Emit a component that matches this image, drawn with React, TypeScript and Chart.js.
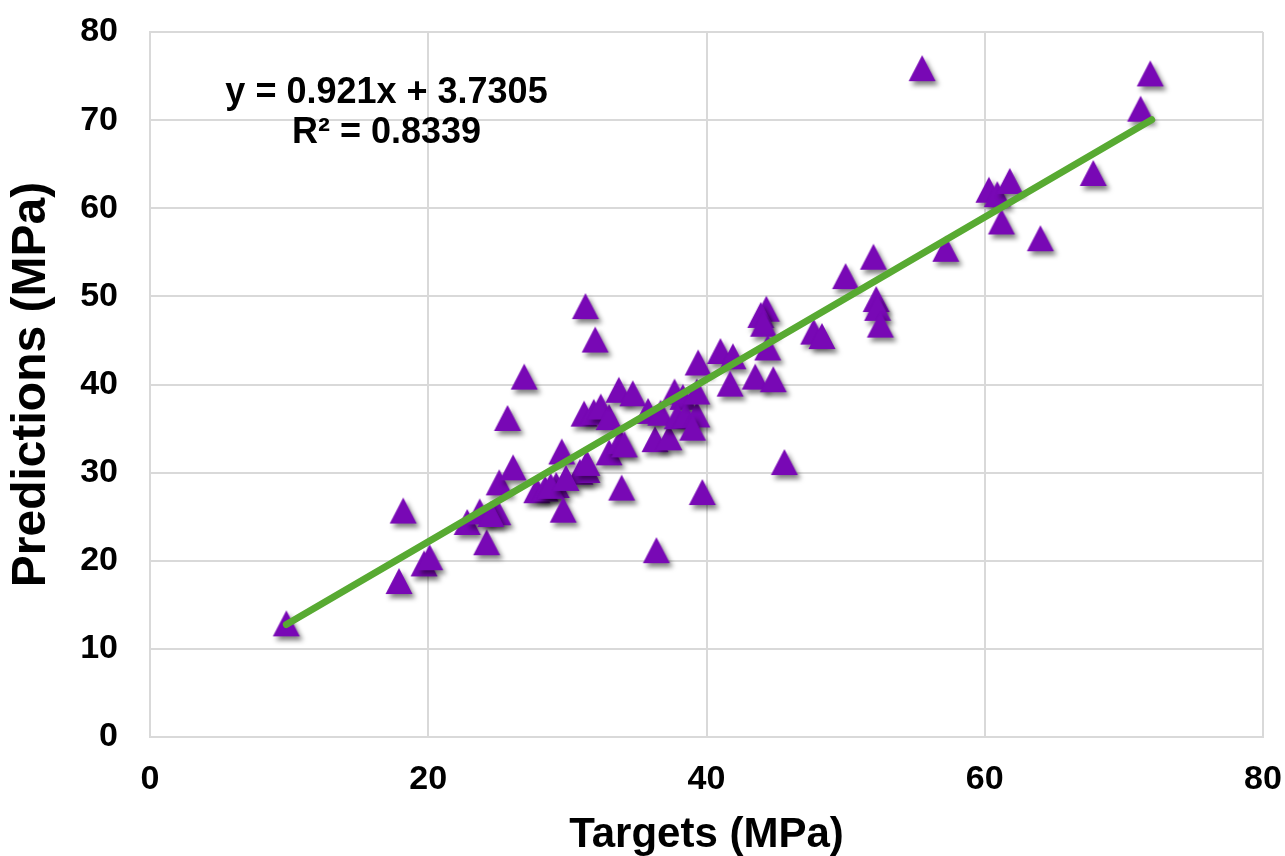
import React, { useEffect, useRef } from 'react';
import { Chart, registerables } from 'chart.js';

Chart.register(...registerables);

const targets = [
  9.8, 18.2, 17.9, 19.7, 20.1, 22.8, 23.7, 24.2, 25.0, 25.1,
  26.1, 25.7, 26.9, 27.8, 28.4, 29.2, 28.8, 29.7, 29.6, 30.9,
  31.4, 31.4, 33.0, 33.8, 31.2, 31.9, 32.4, 33.0, 33.7, 34.7,
  33.9, 31.3, 32.0, 35.8, 36.3, 37.3, 36.4, 36.7, 37.7, 38.3,
  37.9, 38.5, 39.3, 39.3, 39.0, 39.4, 39.7, 41.0, 41.9, 41.7,
  43.5, 44.8, 44.3, 43.9, 44.1, 44.4, 45.6, 47.7, 48.3, 50.0,
  52.0, 52.2, 52.3, 52.5, 55.5, 57.2, 60.3, 60.9, 61.8, 61.2,
  64.0, 67.8, 71.2, 71.9, 24.5, 34.1, 29.9,
];
const predictions = [
  12.9, 25.7, 17.7, 19.7, 20.4, 24.4, 25.6, 22.1, 25.5, 28.9,
  30.6, 36.2, 40.9, 28.0, 28.2, 28.6, 28.5, 25.8, 32.4, 30.1,
  30.3, 31.1, 32.3, 33.6, 36.7, 36.9, 37.5, 36.3, 39.4, 39.0,
  28.3, 48.9, 45.1, 37.0, 33.8, 34.0, 21.2, 36.8, 39.2, 38.6,
  36.4, 36.5, 36.6, 39.2, 35.1, 42.5, 27.8, 43.8, 43.2, 40.1,
  40.9, 40.6, 48.6, 47.9, 46.9, 44.2, 31.2, 46.0, 45.5, 52.3,
  54.5, 49.7, 48.7, 46.8, 75.9, 55.4, 62.1, 61.6, 63.1, 58.5,
  56.6, 64.0, 71.3, 75.3, 25.3, 33.2, 29.4,
];
const trendTargets = [9.8, 72.0];
const trendPredictions = [12.76, 70.04];
const equationLines = ['y = 0.921x + 3.7305', 'R² = 0.8339'];
const xTitle = 'Targets (MPa)';
const yTitle = 'Predictions (MPa)';

const PURPLE = '#7808B5';
const GREEN = '#58AA32';
const GRID = '#D9D9D9';

function makeMarker(): HTMLCanvasElement {
  const c = document.createElement('canvas');
  c.width = 48;
  c.height = 48;
  const g = c.getContext('2d')!;
  g.shadowColor = 'rgba(0,0,0,0.5)';
  g.shadowBlur = 5;
  g.shadowOffsetX = 3;
  g.shadowOffsetY = 4;
  g.fillStyle = PURPLE;
  g.beginPath();
  g.moveTo(24, 11);
  g.lineTo(37.5, 37);
  g.lineTo(10.5, 37);
  g.closePath();
  g.fill();
  return c;
}

const equationPlugin = {
  id: 'equationText',
  afterDatasetsDraw(chart: any) {
    const { ctx, scales } = chart;
    const x = scales.x.getPixelForValue(17.0);
    const y = scales.y.getPixelForValue(72.0);
    ctx.save();
    ctx.font = 'bold 36px "Liberation Sans", Arial, sans-serif';
    ctx.fillStyle = '#000';
    ctx.textAlign = 'center';
    ctx.textBaseline = 'alphabetic';
    equationLines.forEach((t, i) => ctx.fillText(t, x, y + i * 40));
    ctx.restore();
  },
};

export default function App() {
  const ref = useRef<HTMLCanvasElement | null>(null);
  useEffect(() => {
    if (!ref.current) return;
    const marker = makeMarker();
    const chart = new Chart(ref.current, {
      type: 'scatter',
      data: {
        datasets: [
          {
            type: 'line',
            data: trendTargets.map((x, i) => ({ x, y: trendPredictions[i] })),
            borderColor: GREEN,
            borderWidth: 7,
            borderCapStyle: 'round',
            pointRadius: 0,
            showLine: true,
            fill: false,
          } as any,
          {
            data: targets.map((x, i) => ({ x, y: predictions[i] })),
            pointStyle: marker as any,
            pointRadius: 14,
            backgroundColor: PURPLE,
            borderWidth: 0,
          },
        ],
      },
      options: {
        responsive: false,
        animation: false,
        devicePixelRatio: 1,
        layout: { padding: { left: 0, top: 32, right: 22, bottom: 0 } },
        plugins: { legend: { display: false }, tooltip: { enabled: false } },
        scales: {
          x: {
            type: 'linear',
            min: 0,
            max: 80,
            afterFit: (s: any) => { s.height = 119; },
            ticks: {
              stepSize: 20,
              color: '#000',
              padding: 0,
              font: { family: '"Liberation Sans Narrow", "Liberation Sans", Arial, sans-serif', size: 34, weight: 'bold' },
            },
            grid: { color: GRID, lineWidth: 2, drawTicks: true, tickLength: 22, tickColor: 'rgba(0,0,0,0)' },
            border: { color: GRID, width: 2 },
            title: {
              display: true,
              text: xTitle,
              color: '#000',
              padding: 0,
              font: { family: '"Liberation Sans", Arial, sans-serif', size: 42, weight: 'bold', lineHeight: 1 },
            },
          },
          y: {
            type: 'linear',
            min: 0,
            max: 80,
            afterFit: (s: any) => { s.width = 150; },
            ticks: {
              stepSize: 10,
              color: '#000',
              padding: 0,
              font: { family: '"Liberation Sans", Arial, sans-serif', size: 34, weight: 'bold' },
            },
            grid: { color: GRID, lineWidth: 2, drawTicks: true, tickLength: 32, tickColor: 'rgba(0,0,0,0)' },
            border: { color: GRID, width: 2 },
            title: {
              display: true,
              text: yTitle,
              color: '#000',
              padding: 8,
              font: { family: '"Liberation Sans", Arial, sans-serif', size: 48, weight: 'bold', lineHeight: 1 },
            },
          },
        },
      },
      plugins: [equationPlugin],
    });
    return () => chart.destroy();
  }, []);
  return (
    <canvas
      ref={ref}
      width={1285}
      height={856}
      style={{ position: 'absolute', left: 0, top: 0, display: 'block' }}
    />
  );
}
